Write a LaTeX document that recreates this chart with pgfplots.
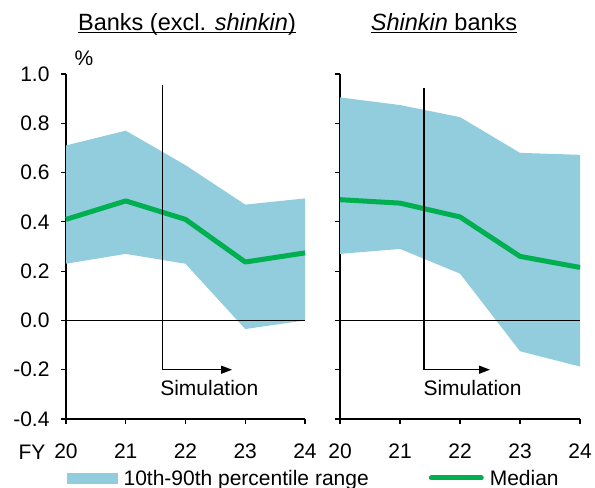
\documentclass[border=0pt]{standalone}
\usepackage{fontspec}
\setmainfont{Liberation Sans}
\usepackage{pgfplots}
\pgfplotsset{compat=1.18}
\usepackage{pgfplotstable}
\usepgfplotslibrary{fillbetween}
\usetikzlibrary{arrows.meta}
\definecolor{bandblue}{RGB}{146,205,221}
\definecolor{medgreen}{RGB}{0,176,80}
\newcommand\tfont{\fontsize{21bp}{25bp}\selectfont}
\newcommand\ttlfont{\fontsize{23.5bp}{28bp}\selectfont}
\newsavebox\ulbox
\newcommand\ul[1]{\sbox\ulbox{#1}\leavevmode\rlap{\rule[-2.8bp]{\wd\ulbox}{1.3bp}}\usebox\ulbox}

\pgfplotstableread{
x up med lo
20 0.710 0.410 0.230
21 0.770 0.485 0.270
22 0.630 0.410 0.230
23 0.470 0.237 -0.035
24 0.495 0.274 0.000
}\banks
\pgfplotstableread{
x up med lo
20 0.905 0.490 0.270
21 0.874 0.476 0.290
22 0.825 0.420 0.190
23 0.680 0.260 -0.125
24 0.672 0.215 -0.187
}\shinkin

\pgfplotsset{panel/.style={
  scale only axis, width=239bp, height=345bp,
  xmin=20, xmax=24, ymin=-0.4, ymax=1.0,
  axis lines=left, axis line style={-, line width=1.2bp},
  xtick={20,21,22,23,24}, xticklabels={20,21,22,23,24},
  ytick={-0.4,-0.2,0,0.2,0.4,0.6,0.8,1.0},
  tick align=outside, major tick length=5bp,
  tick style={line width=1.2bp, black},
  tick label style={font=\tfont},
  xticklabel style={yshift=-16bp},
  yticklabel style={xshift=-8bp},
  clip=false,
}}

\begin{document}
\begin{tikzpicture}
\begin{axis}[panel, at={(66bp,69bp)}, anchor=south west,
  yticklabels={-0.4,-0.2,0.0,0.2,0.4,0.6,0.8,1.0},
  legend columns=2, legend cell align=left,
  legend style={at={(axis description cs:0,0)}, anchor=north west, xshift=1bp, yshift=-53.5bp,
    draw=none, fill=none, inner sep=0pt, font=\tfont,
    nodes={inner sep=0pt, text height=0.75em, text depth=0.25em},
    /tikz/every odd column/.append style={column sep=6bp},
    /tikz/every even column/.append style={column sep=60bp}},
]
\addplot[name path=up, draw=none, forget plot] table[x=x, y=up] {\banks};
\addplot[name path=lo, draw=none, forget plot] table[x=x, y=lo] {\banks};
\addplot[bandblue, legend image code/.code={\fill[bandblue] (0bp,-0.25bp) rectangle (50bp,9.75bp);}] fill between[of=up and lo];
\addlegendentry{10th-90th percentile range}
\addplot[medgreen, line width=5bp, line join=round,
  legend image code/.code={\draw[medgreen, line width=5bp, line cap=round] (2bp,4.75bp) -- (52bp,4.75bp);}]
  table[x=x, y=med] {\banks};
\addlegendentry{Median}
\addplot[black, line width=1.1bp, forget plot] coordinates {(20,0) (24,0)};
\addplot[black, line width=1.3bp, -{Triangle[length=11bp,width=8bp]}, forget plot]
  coordinates {(21.62,0.955) (21.62,-0.2) (22.78,-0.2)};
\node[anchor=base west, font=\tfont, xshift=-6bp] at (axis cs:21.62,-0.306) {Simulation};
\end{axis}

\begin{axis}[panel, at={(340bp,69bp)}, anchor=south west, width=240bp,
  yticklabels={}]
\addplot[name path=up, draw=none, forget plot] table[x=x, y=up] {\shinkin};
\addplot[name path=lo, draw=none, forget plot] table[x=x, y=lo] {\shinkin};
\addplot[bandblue] fill between[of=up and lo];
\addplot[medgreen, line width=5bp, line join=round] table[x=x, y=med] {\shinkin};
\addplot[black, line width=1.1bp] coordinates {(20,0) (24,0)};
\addplot[black, line width=1.3bp, -{Triangle[length=11bp,width=8bp]}]
  coordinates {(21.4,0.943) (21.4,-0.2) (22.5,-0.2)};
\node[anchor=base west, font=\tfont, xshift=-4bp] at (axis cs:21.4,-0.306) {Simulation};
\end{axis}

\node[anchor=base, font=\ttlfont] at (187bp,457.3bp) {\ul{Banks (excl. \textit{shinkin})}};
\node[anchor=base, font=\ttlfont] at (444bp,457.3bp) {\ul{\textit{Shinkin} banks}};
\node[anchor=base, font=\tfont] at (84bp,422bp) {\%};
\node[anchor=base east, font=\tfont] at (49bp,29bp) {FY};
\pgfresetboundingbox
\path[use as bounding box] (0,0) rectangle (595bp,488bp);
\end{tikzpicture}
\end{document}
